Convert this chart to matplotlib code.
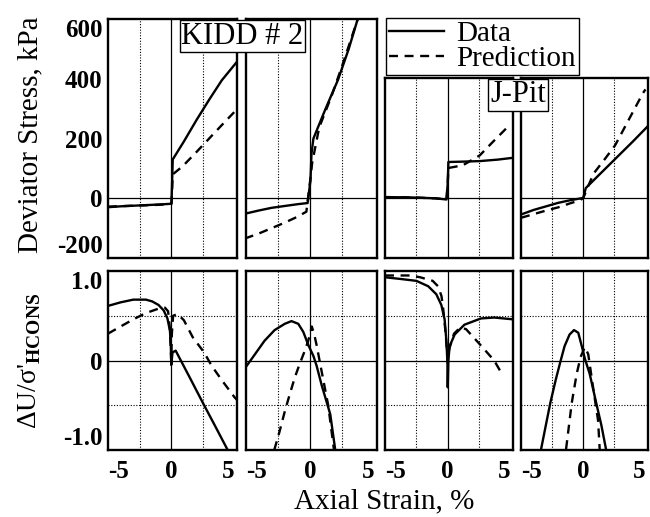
import matplotlib
matplotlib.use("Agg")
import matplotlib.pyplot as plt

plt.rcParams['font.family'] = ['Liberation Serif', 'DejaVu Serif']
plt.rcParams['mathtext.fontset'] = 'custom'
plt.rcParams['mathtext.rm'] = 'Liberation Serif'
plt.rcParams['mathtext.bf'] = 'Liberation Serif:bold'

# ---- data (strain in %, q in kPa, dU/sigma' normalised) ----
# column 1 (KIDD #2)
c1_q_data_x = [-5, -4, -3, -2, -1, -0.2, 0.02, 0.12, 1, 2, 3, 4, 5.2]
c1_q_data_y = [-30, -27, -25, -23, -21, -19, -18, 130, 190, 262, 330, 395, 457]
c1_q_pred_x = [-5, -3, -1, -0.2, 0.02, 0.12, 0.9, 2, 3, 4, 5.2]
c1_q_pred_y = [-28, -25, -22, -20, -18, 80, 107, 155, 200, 245, 298]
c1_u_data_x = [-5, -4, -3, -2, -1.5, -1, -0.6, -0.3, -0.1, -0.03, 0.0, 0.1, 0.35, 1.5, 2.6, 3.5, 4.5]
c1_u_data_y = [0.61, 0.65, 0.68, 0.68, 0.66, 0.62, 0.56, 0.47, 0.33, 0.15, -0.05, 0.09, 0.11, -0.2, -0.5, -0.74, -1.01]
c1_u_pred_x = [-5, -4, -3, -2, -1, -0.5, -0.25, -0.1, 0.0, 0.05, 0.15, 0.5, 1.0, 1.7, 2.6, 3.2, 4.0, 5.0, 5.2]
c1_u_pred_y = [0.3, 0.38, 0.46, 0.53, 0.58, 0.59, 0.55, 0.35, 0.0, 0.3, 0.5, 0.52, 0.45, 0.26, 0.09, -0.06, -0.22, -0.41, -0.44]

# column 2 (KIDD #2)
c2_q_data_x = [-5.1, -4, -3, -2, -1, -0.2, 0.02, 0.1, 0.25, 1.2, 2.16, 3.0, 3.7]
c2_q_data_y = [-52, -41, -32, -26, -20, -16, 60, 150, 200, 300, 396, 500, 600]
c2_q_pred_x = [-5.1, -4, -3, -2, -1, -0.3, 0.0, 0.15, 0.7, 1.65, 2.5, 3.7]
c2_q_pred_y = [-135, -118, -100, -82, -62, -45, 60, 118, 237, 341, 445, 600]
c2_u_data_x = [-5.1, -4.35, -3.56, -2.77, -1.98, -1.46, -0.93, -0.54, -0.14, 0.25, 0.5, 0.9, 1.56, 1.95]
c2_u_data_y = [-0.09, 0.06, 0.22, 0.34, 0.41, 0.44, 0.41, 0.32, 0.17, 0.05, -0.06, -0.28, -0.6, -1.0]
c2_u_pred_x = [-2.8, -2.4, -2.0, -1.6, -1.2, -0.8, -0.5, -0.2, 0.0, 0.12, 0.3, 0.5, 0.9, 1.4, 1.85]
c2_u_pred_y = [-1.0, -0.8, -0.58, -0.38, -0.19, -0.03, 0.08, 0.2, 0.3, 0.38, 0.3, 0.17, -0.13, -0.5, -1.0]

# column 3 (J-Pit)
c3_q_data_x = [-5, -3, -1, -0.1, 0.0, 0.05, 1, 2.55, 4, 5.2]
c3_q_data_y = [3, 2, -1, -5, 50, 120, 121, 123, 128, 134]
c3_q_pred_x = [-5, -3, -1, -0.1, 0.0, 0.05, 1.2, 2.55, 3.5, 4.9]
c3_q_pred_y = [3, 2, -1, -5, 50, 100, 109, 142, 183, 242]
c3_u_data_x = [-5, -3.7, -2.5, -1.56, -0.91, -0.51, -0.25, -0.12, -0.03, 0.0, 0.05, 0.15, 0.55, 1.33, 2.65, 3.7, 5.2]
c3_u_data_y = [0.93, 0.91, 0.89, 0.83, 0.74, 0.62, 0.46, 0.24, 0.0, -0.3, 0.0, 0.16, 0.29, 0.4, 0.47, 0.48, 0.46]
c3_u_pred_x = [-5, -3, -2.2, -1.2, -0.78, -0.5, -0.38, -0.2, 0.0, 0.1, 0.5, 1.0, 1.46, 2.5, 3.7, 4.4]
c3_u_pred_y = [0.95, 0.95, 0.93, 0.89, 0.83, 0.72, 0.6, 0.35, 0.0, 0.12, 0.3, 0.37, 0.35, 0.19, 0.0, -0.17]

# column 4 (J-Pit)
c4_q_data_x = [-5, -4, -3, -2, -1, -0.3, 0, 0.2, 1, 2, 3, 4, 5.2]
c4_q_data_y = [-55, -40, -28, -16, -7, -2, 0, 33, 66, 107, 148, 189, 240]
c4_q_pred_x = [-5, -4, -3, -2, -1, -0.3, 0, 0.4, 0.84, 1.7, 2.55, 3.5, 4.8, 5.0]
c4_q_pred_y = [-66, -54, -42, -31, -17, -8, 0, 40, 82, 128, 175, 249, 350, 362]
c4_u_data_x = [-3.4, -3.0, -2.64, -2.2, -1.85, -1.5, -1.1, -0.74, -0.4, -0.1, 0.13, 0.52, 1.05, 1.45, 1.84]
c4_u_data_y = [-1.0, -0.72, -0.47, -0.21, -0.02, 0.16, 0.29, 0.34, 0.31, 0.15, 0.02, -0.15, -0.48, -0.72, -1.0]
c4_u_pred_x = [-1.38, -1.15, -0.93, -0.53, -0.21, 0.13, 0.4, 0.79, 1.19, 1.32]
c4_u_pred_y = [-0.99, -0.73, -0.48, -0.15, 0.04, 0.15, 0.07, -0.3, -0.67, -0.99]

q_sets = [(c1_q_data_x, c1_q_data_y, c1_q_pred_x, c1_q_pred_y),
          (c2_q_data_x, c2_q_data_y, c2_q_pred_x, c2_q_pred_y),
          (c3_q_data_x, c3_q_data_y, c3_q_pred_x, c3_q_pred_y),
          (c4_q_data_x, c4_q_data_y, c4_q_pred_x, c4_q_pred_y)]
u_sets = [(c1_u_data_x, c1_u_data_y, c1_u_pred_x, c1_u_pred_y),
          (c2_u_data_x, c2_u_data_y, c2_u_pred_x, c2_u_pred_y),
          (c3_u_data_x, c3_u_data_y, c3_u_pred_x, c3_u_pred_y),
          (c4_u_data_x, c4_u_data_y, c4_u_pred_x, c4_u_pred_y)]

q_ticks = [-200, 0, 200, 400, 600]
q_ticklabels = ['-200', '0', '200', '400', '600']
u_ticks = [-1.0, 0, 1.0]
u_ticklabels = ['-1.0', '0', '1.0']
x_ticks = [-5, 0, 5]
x_ticklabels = ['-5', '0', '5']

W, H = 650, 517
fig = plt.figure(figsize=(W / 100, H / 100), dpi=100)


def rect(l, t, r, b):
    return [l / W, 1 - b / H, (r - l) / W, (b - t) / H]


cols = [(108, 237), (246, 377), (385, 513), (521, 648)]
q_tops = [19, 19, 78, 78]
q_ylims = [(-200, 600), (-200, 600), (-200, 400), (-200, 400)]

tick_font = dict(size=18, weight='bold')
LW = 1.7


def style(ax, ylim, yminor):
    ax.set_xlim(-5, 5.2)
    ax.set_ylim(*ylim)
    ax.set_xticks(x_ticks)
    ax.set_xticks([-2.5, 2.5], minor=True)
    ax.set_yticks(yminor, minor=True)
    ax.grid(which='minor', ls=(0, (1, 1.5)), color='black', lw=0.8)
    ax.axhline(0, color='black', lw=0.9, zorder=1.6)
    ax.axvline(0, color='black', lw=0.9, zorder=1.6)
    ax.tick_params(which='both', length=0, pad=4)
    for s in ax.spines.values():
        s.set_linewidth(1.7)


handles = None
for i, (l, r) in enumerate(cols):
    # deviator stress row
    ax = fig.add_axes(rect(l, q_tops[i], r, 258))
    xd, yd, xp, yp = q_sets[i]
    h1, = ax.plot(xd, yd, color='black', lw=LW)
    h2, = ax.plot(xp, yp, color='black', lw=LW, dashes=(3.8, 2.8))
    if handles is None:
        handles = [h1, h2]
    style(ax, q_ylims[i], [200, 400])
    ax.set_yticks([t for t in q_ticks if t <= q_ylims[i][1]])
    ax.set_xticklabels([])
    if i == 0:
        ax.set_yticklabels(q_ticklabels, **tick_font)
        labs = ax.get_yticklabels()
        labs[0].set_va('bottom')
        labs[-1].set_va('top')
    else:
        ax.set_yticklabels([])

    # pore pressure row
    ax = fig.add_axes(rect(l, 271, r, 450))
    xd, yd, xp, yp = u_sets[i]
    ax.plot(xd, yd, color='black', lw=LW)
    ax.plot(xp, yp, color='black', lw=LW, dashes=(3.8, 2.8))
    style(ax, (-1.0, 1.0), [-0.5, 0.5])
    ax.set_yticks(u_ticks)
    ax.set_xticklabels(x_ticklabels, **tick_font)
    xl = ax.get_xticklabels()
    xl[0].set_ha('left')
    xl[-1].set_ha('right')
    ax.tick_params(axis='x', pad=7)
    if i == 0:
        ax.set_yticklabels(u_ticklabels, **tick_font)
        labs = ax.get_yticklabels()
        labs[0].set_va('bottom')
        labs[-1].set_va('top')
    else:
        ax.set_yticklabels([])

leg = fig.legend(handles, ['Data', 'Prediction'], loc='upper left',
                 bbox_to_anchor=(386 / W, 1 - 18 / H), borderaxespad=0,
                 fancybox=False, edgecolor='black', framealpha=1,
                 fontsize=21, borderpad=0.1, handlelength=1.9,
                 handletextpad=0.4, labelspacing=-0.05)
leg.get_frame().set_linewidth(1.0)

box = dict(boxstyle='square,pad=0.06', fc='white', ec='black', lw=1.0)
fig.text(242.5 / W, 1 - 36 / H, 'KIDD # 2', ha='center', va='center', fontsize=22, bbox=box)
fig.text(518 / W, 1 - 95 / H, 'J-Pit', ha='center', va='center', fontsize=22, bbox=box)

fig.text(30 / W, 1 - 135 / H, 'Deviator Stress, kPa', rotation=90,
         ha='center', va='center', fontsize=21)
fig.text(30 / W, 1 - 361 / H, "ΔU/σ'" + r"$_{\mathbf{HCONS}}$", rotation=90,
         ha='center', va='center', fontsize=20)
fig.text(384 / W, 1 - 501 / H, 'Axial Strain, %', ha='center', va='center', fontsize=21)

fig.savefig('out.png', dpi=100)
